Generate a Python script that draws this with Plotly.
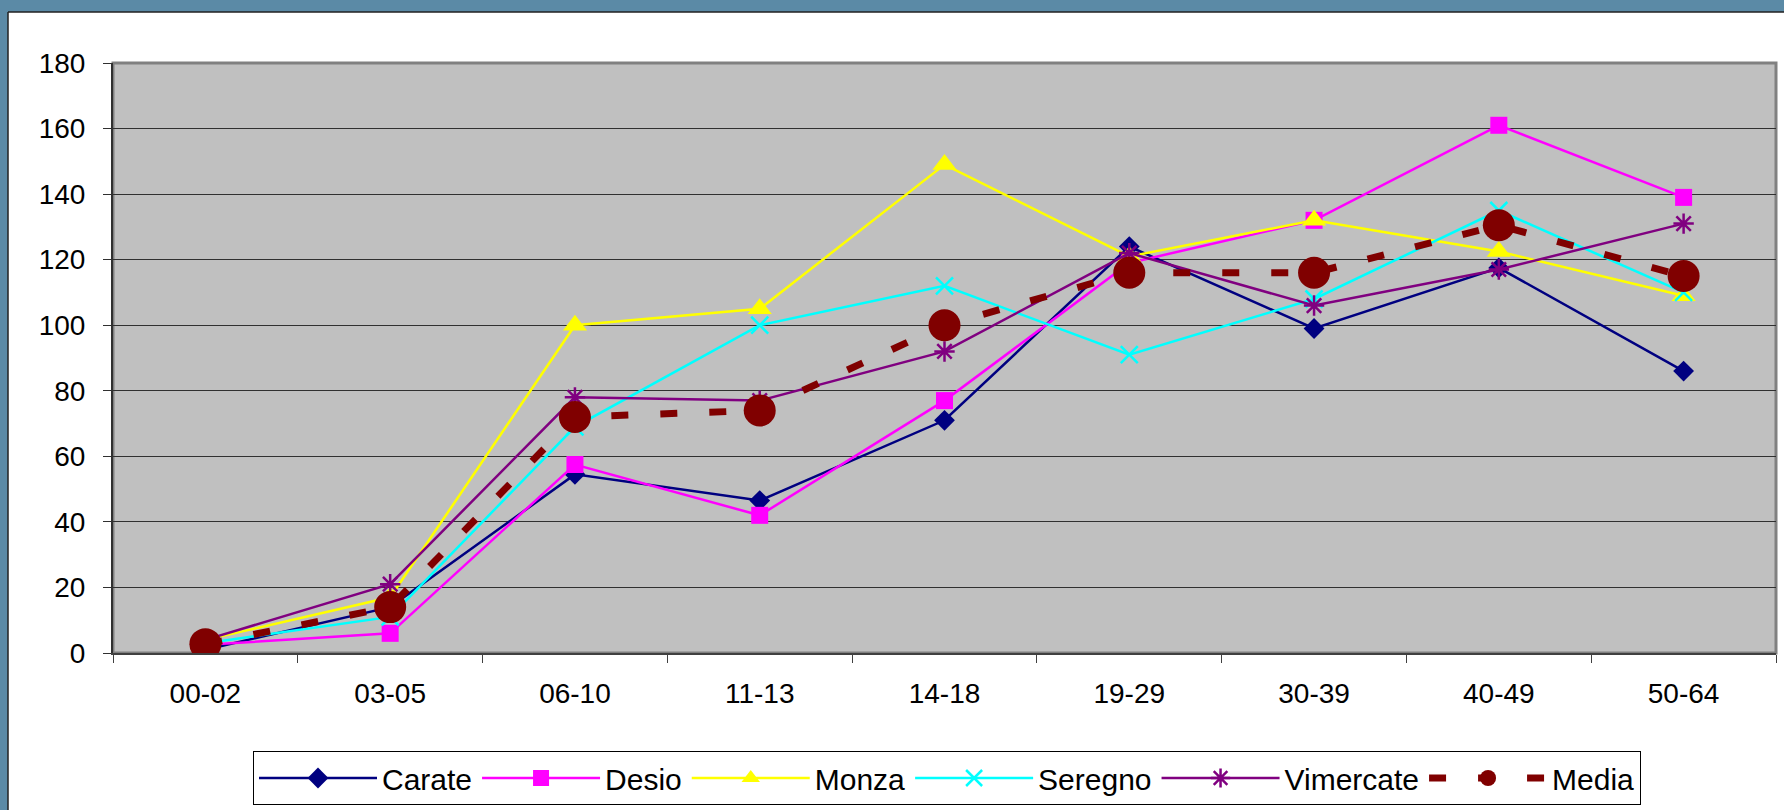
import plotly.graph_objects as go

# ---------------- data ----------------
categories = ["00-02", "03-05", "06-10", "11-13", "14-18", "19-29", "30-39", "40-49", "50-64"]
carate = [1, 14, 54.5, 46.5, 71, 124, 99, 117.5, 86]
desio = [2.5, 6, 57.5, 42, 77, 119, 132, 161, 139]
monza = [4, 17, 100, 105, 149, 121, 132, 122.5, 109]
seregno = [3, 11, 69, 100, 112, 91, 108, 135, 110]
vimercate = [4, 21, 78, 77, 92, 122, 106, 117, 131]
media = [2.7, 14, 72, 74, 100, 116, 116, 130.5, 115]
y_ticks = [0, 20, 40, 60, 80, 100, 120, 140, 160, 180]

# ---------------- layout geometry (px) ----------------
W, H = 1784, 810
L, R, T, B = 113, 1776, 63, 653
FONT = "Liberation Sans, Arial, sans-serif"


def px_x(p):
    return (p - L) / (R - L)


def px_y(p):
    return (B - p) / (B - T)


fig = go.Figure()

series = [
    ("Carate", carate, "#000080", dict(symbol="diamond", size=16, color="#000080")),
    ("Desio", desio, "#ff00ff", dict(symbol="square", size=17, color="#ff00ff")),
    ("Monza", monza, "#ffff00", dict(symbol="triangle-up", size=21, color="#ffff00")),
    ("Seregno", seregno, "#00ffff",
     dict(symbol="x-thin-open", size=17, color="#00ffff", line=dict(color="#00ffff", width=2.5))),
    ("Vimercate", vimercate, "#800080",
     dict(symbol="asterisk-open", size=17, color="#800080", line=dict(color="#800080", width=2.5))),
]
for name, vals, col, mk in series:
    fig.add_trace(go.Scatter(
        x=categories, y=vals, name=name, mode="lines+markers",
        line=dict(color=col, width=2.5), marker=mk,
    ))

fig.add_trace(go.Scatter(
    x=categories, y=media, name="Media", mode="lines+markers",
    line=dict(color="#800000", width=7, dash="17px,32px"),
    marker=dict(symbol="circle", size=32, color="#800000"),
))

shapes = [
    # blue frame strips (decorative background)
    dict(type="rect", xref="paper", yref="paper", layer="below",
         x0=px_x(0), x1=px_x(W), y0=px_y(12), y1=px_y(0),
         fillcolor="#5b8aa6", line=dict(width=0)),
    dict(type="rect", xref="paper", yref="paper", layer="below",
         x0=px_x(0), x1=px_x(8), y0=px_y(H), y1=px_y(0),
         fillcolor="#5b8aa6", line=dict(width=0)),
    dict(type="line", xref="paper", yref="paper",
         x0=px_x(8), x1=px_x(W), y0=px_y(12), y1=px_y(12),
         line=dict(color="#202020", width=1.5)),
    dict(type="line", xref="paper", yref="paper",
         x0=px_x(8), x1=px_x(8), y0=px_y(H), y1=px_y(12),
         line=dict(color="#202020", width=1.5)),
    # plot-area border (grey)
    dict(type="rect", xref="paper", yref="paper", layer="below",
         x0=0, x1=1, y0=0, y1=1, line=dict(color="#808080", width=3)),
]

fig.update_layout(
    width=W, height=H,
    margin=dict(l=L, r=W - R, t=T, b=H - B, autoexpand=False),
    paper_bgcolor="white",
    plot_bgcolor="#c0c0c0",
    font=dict(family=FONT, size=28, color="black"),
    showlegend=True,
    legend=dict(
        orientation="h", x=px_x(253), xanchor="left", y=px_y(751), yanchor="top",
        bgcolor="white", bordercolor="black", borderwidth=1,
        font=dict(family=FONT, size=30, color="black"),
        itemwidth=118, tracegroupgap=0,
    ),
    shapes=shapes,
)

fig.update_xaxes(
    type="category", range=[-0.5, 8.5],
    showgrid=False, showline=True, linecolor="#404040", linewidth=2,
    ticks="outside", tickson="boundaries", ticklen=8, tickcolor="#404040", tickwidth=1,
    tickfont=dict(family=FONT, size=28, color="black"), ticklabelstandoff=14,
    fixedrange=True,
)
fig.update_yaxes(
    range=[0, 180], tickvals=y_ticks,
    showgrid=True, gridcolor="#303030", gridwidth=1,
    showline=True, linecolor="#303030", linewidth=2,
    ticks="outside", ticklen=8, tickcolor="#303030", tickwidth=1,
    tickfont=dict(family=FONT, size=28, color="black"), ticklabelstandoff=12,
    zeroline=False, fixedrange=True,
)

fig.write_html(
    "out.html",
    config={"displayModeBar": False},
    post_script="document.body.style.margin='0';",
)
